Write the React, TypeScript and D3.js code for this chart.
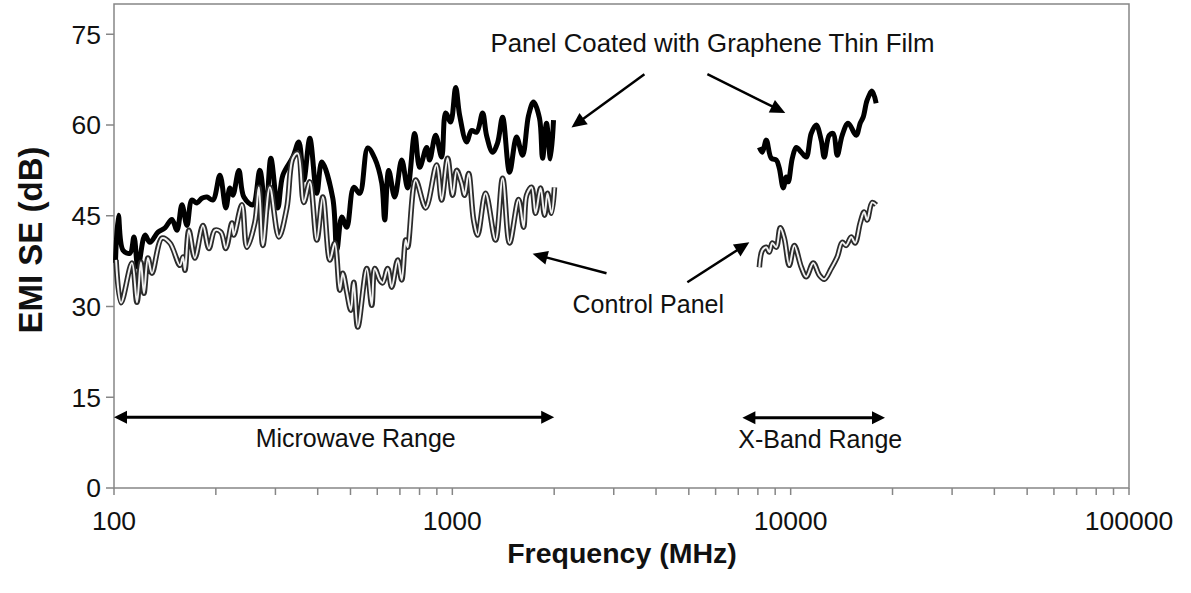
import React from "react";
import * as d3 from "d3";

// ---- data (frequency MHz, EMI SE dB) ----
const grapheneMicrowave: [number, number][] = [
  [101, 37.2], [103, 45.1], [106.3, 39.3], [111.5, 38.8], [114.6, 41.5], [117.7, 36.5],
  [123.5, 41.8], [127.7, 40.6], [134.9, 42.3], [141.5, 43.0], [148.3, 44.4], [153.5, 42.6],
  [158.8, 46.8], [164.3, 43.4], [169.9, 47.6], [175.8, 47.1], [181.9, 47.9], [188.2, 48.1],
  [196.1, 47.6], [205.6, 51.7], [214.1, 46.3], [220, 49.6], [224.6, 48.4], [233.9, 52.5],
  [242, 48.1], [257.3, 46.8], [269.8, 52.5], [281, 45.4], [290.8, 54.5], [304.9, 46.3],
  [315.5, 51.7], [337.7, 54.7], [351.8, 57.2], [363.9, 50.9], [379.1, 57.8], [397.6, 48.7],
  [411.3, 53.9], [443.3, 47.9], [455.6, 39.3], [471.3, 44.8], [487.6, 43.1], [511.3, 49.7],
  [532.6, 48.7], [562.3, 56.2], [589.7, 54.5], [618.5, 50.4], [631.2, 44.3], [648.6, 52.5],
  [675.6, 48.1], [708.6, 54.2], [737.9, 49.6], [773.9, 58.6], [800.6, 53.0], [839.5, 56.3],
  [857, 54.2], [892.6, 58.3], [929.7, 54.7], [955.4, 62.0], [988.5, 60.5], [1023, 66.2],
  [1051, 61.6], [1102, 57.2], [1140, 59.1], [1180, 58.8], [1229, 62.0], [1262, 58.3],
  [1315, 55.5], [1360, 57.0], [1408, 61.3], [1476, 52.2], [1548, 58.0], [1613, 55.0],
  [1680, 61.6], [1738, 63.8], [1810, 61.1], [1848, 54.5], [1898, 60.3], [1950, 54.4],
  [1991, 60.8],
];

const controlMicrowave: [number, number][] = [
  [101.4, 37.7], [104.9, 30.6], [113, 37.2], [116.9, 30.7], [120.1, 37.3], [122.6, 32.2],
  [126, 38.0], [129.5, 35.5], [138.6, 41.3], [146.3, 40.5], [156.6, 36.8], [159.9, 38.2],
  [162.1, 36.0], [166.5, 42.6], [173.4, 38.0], [183.2, 43.4], [190.8, 39.6], [198.7, 42.6],
  [207, 42.3], [214.1, 39.6], [223.1, 43.8], [226.1, 41.8], [238.8, 46.8], [247, 39.8],
  [260.9, 43.9], [268, 49.7], [275.4, 40.1], [288.8, 49.7], [307, 41.5], [324.2, 46.3],
  [337.7, 54.5], [349.4, 55.3], [363.9, 47.2], [379.1, 50.6], [397.6, 41.0], [414.2, 48.1],
  [434.4, 37.7], [449.4, 40.5], [464.9, 32.7], [474.5, 35.5], [487.6, 32.4], [501, 29.4],
  [511.3, 34.0], [525.4, 26.6], [558.5, 36.3], [577.8, 30.2], [589.7, 36.3], [610.1, 34.4],
  [622.6, 33.9], [644.2, 36.3], [662, 33.2], [689.7, 37.7], [708.6, 34.4], [728, 41.0],
  [737.9, 39.8], [779.2, 50.9], [834.2, 46.3], [898.7, 53.4], [929.7, 47.6], [968.5, 54.5],
  [1002, 48.4], [1030, 52.5], [1065, 50.4], [1087, 48.4], [1117, 52.0], [1156, 44.3],
  [1188, 41.8], [1254, 48.7], [1342, 41.0], [1408, 51.2], [1476, 40.5], [1570, 47.7],
  [1624, 43.1], [1658, 48.4], [1715, 49.7], [1762, 45.4], [1823, 49.6], [1873, 45.1],
  [1911, 48.7], [1964, 45.4], [2004, 49.7],
];

const grapheneXBand: [number, number][] = [
  [8081, 56.3], [8247, 55.5], [8473, 57.5], [8765, 54.5], [9067, 54.2], [9253, 52.9],
  [9508, 49.6], [9705, 51.4], [9838, 50.6], [10110, 54.5], [10390, 56.3], [10750, 55.5],
  [11120, 54.7], [11500, 58.6], [11900, 60.0], [12310, 57.5], [12570, 54.7], [13000, 58.3],
  [13360, 58.6], [13730, 55.0], [14200, 58.3], [14790, 60.3], [15620, 58.3], [16050, 60.3],
  [16380, 61.3], [16830, 64.1], [17410, 65.6], [17890, 63.6],
];

const controlXBand: [number, number][] = [
  [8081, 36.5], [8247, 39.3], [8473, 39.8], [8647, 39.0], [8825, 40.5], [9067, 39.8],
  [9317, 43.0], [9574, 41.3], [9906, 36.8], [10250, 40.1], [10750, 36.5], [11120, 34.9],
  [11660, 37.2], [12150, 35.2], [12570, 34.5], [13180, 36.3], [13730, 38.2], [14200, 40.6],
  [14590, 40.1], [15100, 41.5], [15510, 40.5], [16050, 43.8], [16490, 45.6], [16830, 44.3],
  [17410, 47.2], [17890, 46.8],
];

const yTicks = [0, 15, 30, 45, 60, 75];
const xLabelTicks = [100, 1000, 10000, 100000];
const xTitle = "Frequency (MHz)";
const yTitle = "EMI SE (dB)";

// annotations in data coordinates
const rangeArrows = [
  { from: 100, to: 2000, v: 11.7, label: "Microwave Range", labelAt: 518 },
  { from: 7200, to: 19000, v: 11.6, label: "X-Band Range", labelAt: 12230 },
];
const pointerArrows: { from: [number, number]; to: [number, number] }[] = [
  { from: [3696, 68.4], to: [2250, 59.6] },
  { from: [5673, 68.4], to: [9640, 62.0] },
  { from: [2855, 35.5], to: [1727, 38.7] },
  { from: [4950, 34.0], to: [7547, 40.6] },
];
const textNotes = [
  { text: "Panel Coated with Graphene Thin Film", f: 1297, v: 72.0, size: 25.8 },
  { text: "Control Panel", f: 2266, v: 28.9, size: 25 },
];

const W = 1191;
const H = 593;
const FONT = "'Liberation Sans', Arial, Helvetica, sans-serif";

function arrowHead(x1: number, y1: number, x2: number, y2: number, len = 14, half = 6.5) {
  const dx = x2 - x1, dy = y2 - y1;
  const L = Math.hypot(dx, dy);
  const ux = dx / L, uy = dy / L;
  const bx = x2 - ux * len, by = y2 - uy * len;
  const px = -uy, py = ux;
  return `M${x2},${y2}L${bx + px * half},${by + py * half}L${bx - px * half},${by - py * half}Z`;
}

export default function App() {
  const x = d3.scaleLog().domain([100, 100000]).range([114, 1129]);
  const y = d3.scaleLinear().domain([0, 80]).range([488, 4]);

  const line = d3
    .line<[number, number]>()
    .x((d) => x(d[0]))
    .y((d) => y(d[1]))
    .curve(d3.curveCatmullRom.alpha(0.5));

  const xt = x.ticks();

  return (
    <svg
      width={W}
      height={H}
      style={{ position: "absolute", left: 0, top: 0, background: "#fff" }}
      fontFamily={FONT}
    >
      <rect x={0} y={0} width={W} height={H} fill="#fff" />
      {/* plot frame */}
      <rect x={114} y={4} width={1129 - 114} height={488 - 4} fill="none" stroke="#868686" strokeWidth={1.5} />

      {/* y ticks */}
      {yTicks.map((t) => (
        <g key={"y" + t}>
          <line x1={106} x2={114} y1={y(t)} y2={y(t)} stroke="#868686" strokeWidth={1.5} />
          <text x={101} y={y(t)} dy="0.35em" textAnchor="end" fontSize={26.5} fill="#111">
            {t}
          </text>
        </g>
      ))}

      {/* x ticks */}
      {xt.map((t, i) => (
        <line key={"xt" + i} x1={x(t)} x2={x(t)} y1={488} y2={495} stroke="#868686" strokeWidth={1.5} />
      ))}
      {xLabelTicks.map((t) => (
        <text key={"xl" + t} x={x(t)} y={530} textAnchor="middle" fontSize={26.5} fill="#111">
          {t}
        </text>
      ))}

      {/* axis titles */}
      <text x={622} y={563} textAnchor="middle" fontSize={28.5} fontWeight="bold" fill="#111">
        {xTitle}
      </text>
      <text
        transform={`translate(42,${240}) rotate(-90)`}
        textAnchor="middle"
        fontSize={33}
        fontWeight="bold"
        fill="#111"
      >
        {yTitle}
      </text>

      {/* series: graphene (black) */}
      {[grapheneMicrowave, grapheneXBand].map((s, i) => (
        <path key={"g" + i} d={line(s) || ""} fill="none" stroke="#000" strokeWidth={5} strokeLinejoin="round" />
      ))}
      {/* series: control (double line) */}
      {[controlMicrowave, controlXBand].map((s, i) => (
        <g key={"c" + i}>
          <path d={line(s) || ""} fill="none" stroke="#2b2b2b" strokeWidth={5.5} strokeLinejoin="round" />
          <path d={line(s) || ""} fill="none" stroke="#f2f2f2" strokeWidth={2} strokeLinejoin="round" />
        </g>
      ))}

      {/* range arrows */}
      {rangeArrows.map((a, i) => {
        const x1 = x(a.from), x2 = x(a.to), yy = y(a.v);
        return (
          <g key={"ra" + i}>
            <line x1={x1 + 10} x2={x2 - 10} y1={yy} y2={yy} stroke="#000" strokeWidth={3} />
            <path d={arrowHead(x2 - 20, yy, x1, yy, 13, 6.5)} fill="#000" />
            <path d={arrowHead(x1 + 20, yy, x2, yy, 13, 6.5)} fill="#000" />
            <text x={x(a.labelAt)} y={y(a.v) + 30} textAnchor="middle" fontSize={25} fill="#111">
              {a.label}
            </text>
          </g>
        );
      })}

      {/* pointer arrows */}
      {pointerArrows.map((a, i) => {
        const x1 = x(a.from[0]), y1 = y(a.from[1]), x2 = x(a.to[0]), y2 = y(a.to[1]);
        const L = Math.hypot(x2 - x1, y2 - y1);
        const ex = x2 - ((x2 - x1) / L) * 10, ey = y2 - ((y2 - y1) / L) * 10;
        return (
          <g key={"pa" + i}>
            <line x1={x1} y1={y1} x2={ex} y2={ey} stroke="#000" strokeWidth={2.5} />
            <path d={arrowHead(x1, y1, x2, y2, 15, 7)} fill="#000" />
          </g>
        );
      })}

      {textNotes.map((n, i) => (
        <text key={"tn" + i} x={x(n.f)} y={y(n.v)} fontSize={n.size} fill="#111">
          {n.text}
        </text>
      ))}
    </svg>
  );
}
